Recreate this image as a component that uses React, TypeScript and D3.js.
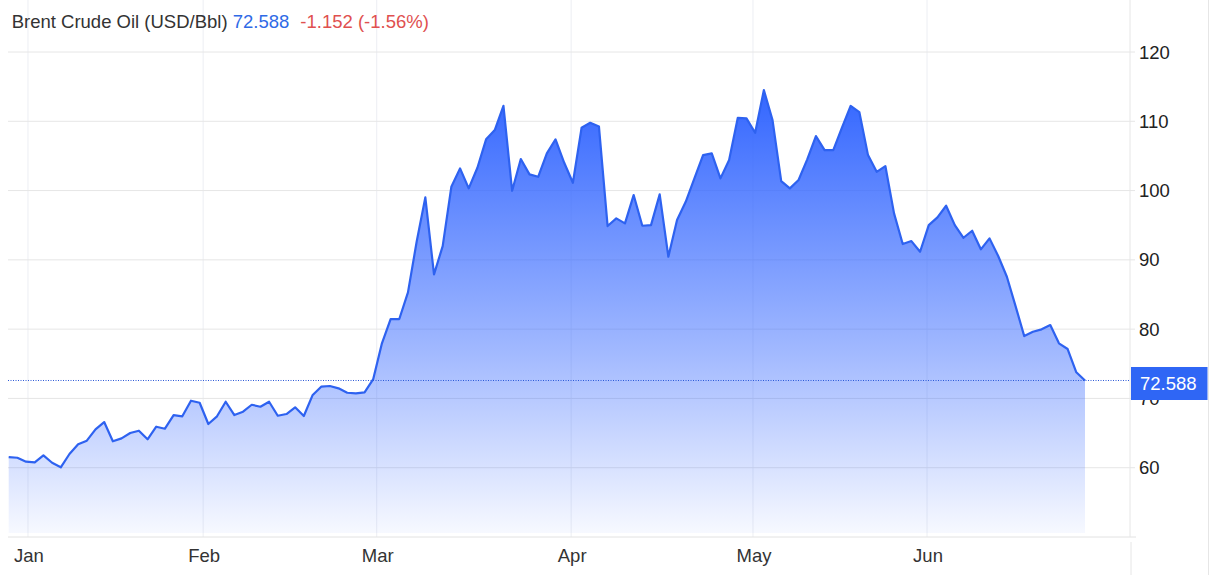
import { useEffect, useRef } from "react"
import * as d3 from "d3"

// Brent daily closes, trading-day index
const prices = [
  61.54, 61.44, 60.87, 60.78, 61.79, 60.72, 60.06, 61.98, 63.38, 63.9,
  65.54, 66.59, 63.81, 64.24, 65.01, 65.34, 64.1, 65.92, 65.63, 67.6,
  67.42, 69.67, 69.38, 66.31, 67.42, 69.52, 67.6, 68.08, 69.09, 68.8,
  69.52, 67.5, 67.75, 68.72, 67.46, 70.45, 71.69, 71.79, 71.46, 70.82,
  70.74, 70.88, 72.8, 77.95, 81.46, 81.46, 85.31, 92.61, 99.02, 87.91,
  91.99, 100.55, 103.2, 100.32, 103.29, 107.39, 108.73, 112.24, 99.97, 104.55,
  102.34, 101.99, 105.37, 107.39, 104.01, 101.13, 109.06, 109.78, 109.26, 94.88,
  95.99, 95.27, 99.35, 94.92, 95.02, 99.45, 90.45, 95.74, 98.38, 101.76,
  105.12, 105.37, 101.76, 104.4, 110.5, 110.42, 108.34, 114.5, 110.17, 101.37,
  100.32, 101.52, 104.5, 107.86, 105.84, 105.84, 109.09, 112.22, 111.33, 105.12,
  102.71, 103.54, 96.71, 92.28, 92.71, 91.17, 95.02, 96.13, 97.81, 95.02,
  93.19, 94.2, 91.52, 93.1, 90.55, 87.56, 83.33, 79.0, 79.62, 79.97,
  80.59, 77.95, 77.13, 73.77, 72.588,
]

const monthLabels = ["Jan", "Feb", "Mar", "Apr", "May", "Jun"]
// where each month starts, in trading-day index units
const monthPositions = [2.22, 22.4, 42.4, 64.8, 85.75, 105.8]
const yTicks = [60, 70, 80, 90, 100, 110, 120]

const title = "Brent Crude Oil (USD/Bbl)"
const lastPrice = "72.588"
const change = "-1.152 (-1.56%)"

const FONT = "'Liberation Sans', Arial, Helvetica, sans-serif"

export default function App() {
  const svgRef = useRef<SVGSVGElement>(null)

  useEffect(() => {
    if (!svgRef.current) return
    const width = 1221
    const height = 575
    const left = 8
    const axisX = 1130
    const bottom = 537

    const svg = d3.select(svgRef.current)
    svg.selectAll("*").remove()
    svg.attr("width", width).attr("height", height)

    const x = d3.scaleLinear().domain([0, prices.length - 1]).range([8.7, 1085])
    const y = d3.scaleLinear().domain([50, 120]).range([bottom, 52])

    const defs = svg.append("defs")
    const grad = defs
      .append("linearGradient")
      .attr("id", "brent-fill")
      .attr("gradientUnits", "userSpaceOnUse")
      .attr("x1", 0)
      .attr("x2", 0)
      .attr("y1", y(d3.max(prices) || 120))
      .attr("y2", bottom - 4)
    grad.append("stop").attr("offset", "0%").attr("stop-color", "#3366ff").attr("stop-opacity", 1)
    grad.append("stop").attr("offset", "60%").attr("stop-color", "#3366ff").attr("stop-opacity", 0.45)
    grad.append("stop").attr("offset", "100%").attr("stop-color", "#3366ff").attr("stop-opacity", 0.04)

    // Month gridlines
    svg
      .append("g")
      .selectAll("line")
      .data(monthPositions)
      .enter()
      .append("line")
      .attr("x1", (d) => x(d))
      .attr("x2", (d) => x(d))
      .attr("y1", 0)
      .attr("y2", bottom)
      .attr("stroke", "#eceef3")
      .attr("stroke-width", 1)

    // Horizontal gridlines
    svg
      .append("g")
      .selectAll("line")
      .data(yTicks)
      .enter()
      .append("line")
      .attr("x1", left)
      .attr("x2", axisX + 5)
      .attr("y1", (d) => y(d))
      .attr("y2", (d) => y(d))
      .attr("stroke", "#e6e6e6")
      .attr("stroke-width", 1)

    // Area + line
    const area = d3
      .area<number>()
      .x((_, i) => x(i))
      .y0(bottom - 4)
      .y1((d) => y(d))
    svg.append("path").datum(prices).attr("d", area).attr("fill", "url(#brent-fill)")

    const line = d3
      .line<number>()
      .x((_, i) => x(i))
      .y((d) => y(d))
    svg
      .append("path")
      .datum(prices)
      .attr("d", line)
      .attr("fill", "none")
      .attr("stroke", "#2e62f0")
      .attr("stroke-width", 2.2)
      .attr("stroke-linejoin", "round")

    // Frame lines
    svg
      .append("line")
      .attr("x1", left)
      .attr("x2", axisX + 6)
      .attr("y1", bottom)
      .attr("y2", bottom)
      .attr("stroke", "#e2e2e2")
    svg
      .append("line")
      .attr("x1", axisX)
      .attr("x2", axisX)
      .attr("y1", 0)
      .attr("y2", bottom)
      .attr("stroke", "#e6e6e6")
    svg
      .append("line")
      .attr("x1", axisX + 1)
      .attr("x2", axisX + 1)
      .attr("y1", bottom + 5)
      .attr("y2", height)
      .attr("stroke", "#e6e6e6")
    svg
      .append("line")
      .attr("x1", 1208.5)
      .attr("x2", 1208.5)
      .attr("y1", 0)
      .attr("y2", height)
      .attr("stroke", "#e6e6e6")

    // Y labels
    svg
      .append("g")
      .selectAll("text")
      .data(yTicks)
      .enter()
      .append("text")
      .attr("x", 1139)
      .attr("y", (d) => y(d) + 6.6)
      .attr("font-family", FONT)
      .attr("font-size", 18.5)
      .attr("fill", "#222")
      .text((d) => String(d))

    // X labels
    svg
      .append("g")
      .selectAll("text")
      .data(monthLabels)
      .enter()
      .append("text")
      .attr("x", (_, i) => x(monthPositions[i]) + 1)
      .attr("y", 562)
      .attr("text-anchor", "middle")
      .attr("font-family", FONT)
      .attr("font-size", 18.5)
      .attr("fill", "#333")
      .text((d) => d)

    // Last price marker
    const lastY = y(prices[prices.length - 1])
    svg
      .append("line")
      .attr("x1", left)
      .attr("x2", axisX)
      .attr("y1", lastY)
      .attr("y2", lastY)
      .attr("stroke", "#2b58d6")
      .attr("stroke-width", 1)
      .attr("stroke-dasharray", "1,1.5")
    svg
      .append("rect")
      .attr("x", 1131)
      .attr("y", lastY - 13.5)
      .attr("width", 76.5)
      .attr("height", 33)
      .attr("fill", "#2f66f5")
    svg
      .append("text")
      .attr("x", 1140)
      .attr("y", lastY + 9.8)
      .attr("font-family", FONT)
      .attr("font-size", 18.5)
      .attr("fill", "#fff")
      .text(lastPrice)

    // Title
    const t = svg
      .append("text")
      .attr("x", 11.7)
      .attr("y", 28.3)
      .attr("font-family", FONT)
      .attr("font-size", 18.5)
    t.append("tspan").attr("fill", "#333").text(title + " ")
    t.append("tspan").attr("fill", "#2f6ae6").text(lastPrice)
    t.append("tspan").attr("fill", "#e0504f").attr("dx", 11).text(change)
  }, [])

  return (
    <div>
      <svg ref={svgRef} style={{ position: "absolute", left: 0, top: 0, display: "block" }} />
    </div>
  )
}
